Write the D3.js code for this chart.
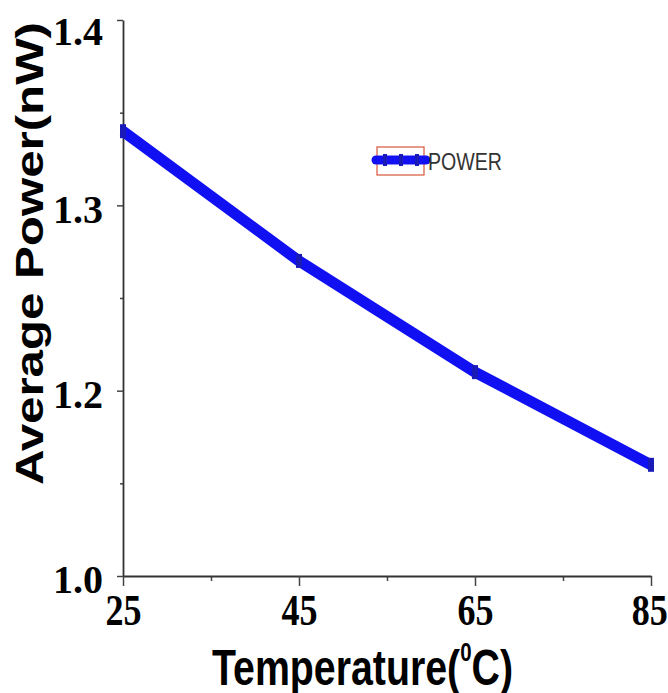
<!DOCTYPE html>
<html>
<head>
<meta charset="utf-8">
<script src="https://cdn.jsdelivr.net/npm/d3@7"></script>
<style>
  body { margin: 0; background: #fff; }
  svg { display: block; }
</style>
</head>
<body>
<div id="chart"></div>
<script>
// data
const temps = [25, 45, 65, 85];
const power = [1.34, 1.27, 1.21, 1.16];
const xTicks = [25, 45, 65, 85];
const xMinor = [35, 55, 75];
const yTicks = [1.1, 1.2, 1.3, 1.4];
const yTickLabels = ["1.0", "1.2", "1.3", "1.4"]; // bottom label printed as 1.0 in the original
const yMinor = [1.15, 1.25, 1.35];
const seriesName = "POWER";

const W = 668, H = 693;
const margin = { left: 123, right: 17, top: 20, bottom: 117 };

const svg = d3.select("#chart").append("svg")
  .attr("width", W).attr("height", H);

const x = d3.scaleLinear().domain([25, 85]).range([margin.left, W - margin.right]);
const y = d3.scaleLinear().domain([1.1, 1.4]).range([H - margin.bottom, margin.top]);

// minor ticks first
svg.append("g")
  .attr("transform", `translate(0,${H - margin.bottom})`)
  .call(d3.axisBottom(x).tickValues(xMinor).tickSize(5).tickFormat(""))
  .call(g => g.select(".domain").remove())
  .selectAll("line").attr("stroke", "#444").attr("stroke-width", 1.5);

svg.append("g")
  .attr("transform", `translate(${margin.left},0)`)
  .call(d3.axisLeft(y).tickValues(yMinor).tickSize(3).tickFormat(""))
  .call(g => g.select(".domain").remove())
  .selectAll("line").attr("stroke", "#444").attr("stroke-width", 1.5);

// x axis
const gx = svg.append("g")
  .attr("transform", `translate(0,${H - margin.bottom})`)
  .call(d3.axisBottom(x).tickValues(xTicks).tickSize(10).tickSizeOuter(0).tickFormat(d3.format("d")));
gx.select(".domain").attr("stroke", "#333").attr("stroke-width", 1.8);
gx.selectAll(".tick line").attr("stroke", "#444").attr("stroke-width", 1.5);
gx.selectAll(".tick text")
  .attr("y", 49).attr("dy", 0)
  .attr("transform", "scale(0.82,1)")
  .style("font-family", "'Liberation Serif', 'Times New Roman', serif")
  .style("font-weight", "bold")
  .style("font-size", "44px")
  .attr("fill", "#000");
// the last label sits against the right edge
gx.selectAll(".tick").filter(d => d === 85).select("text").attr("x", -2);

// y axis
const gy = svg.append("g")
  .attr("transform", `translate(${margin.left},0)`)
  .call(d3.axisLeft(y).tickValues(yTicks).tickSize(6).tickSizeOuter(0).tickPadding(14)
    .tickFormat((d, i) => yTickLabels[i]));
gy.select(".domain").attr("stroke", "#333").attr("stroke-width", 1.8);
gy.selectAll(".tick line").attr("stroke", "#444").attr("stroke-width", 1.5);
gy.selectAll(".tick text")
  .attr("dy", "0.42em")
  .style("font-family", "'Liberation Serif', 'Times New Roman', serif")
  .style("font-weight", "bold")
  .style("font-size", "40px")
  .attr("fill", "#000");
gy.selectAll(".tick").filter(d => d === 1.4).select("text").attr("dy", "0.6em");

// axis titles
const xt = svg.append("text")
  .attr("x", 212).attr("y", 685)
  .attr("textLength", 301).attr("lengthAdjust", "spacingAndGlyphs")
  .style("font-family", "'Liberation Sans', Arial, sans-serif")
  .style("font-weight", "bold").style("font-size", "50px");
xt.append("tspan").text("Temperature(");
xt.append("tspan").attr("dy", -24).style("font-size", "26px").text("0");
xt.append("tspan").attr("dy", 24).text("C)");

svg.append("text")
  .attr("transform", "translate(43,485) rotate(-90)")
  .attr("textLength", 463).attr("lengthAdjust", "spacingAndGlyphs")
  .style("font-family", "'Liberation Sans', Arial, sans-serif")
  .style("font-weight", "bold").style("font-size", "39px")
  .text("Average Power(nW)");

// series line
const pts = temps.map((t, i) => [t, power[i]]);
const line = d3.line().x(d => x(d[0])).y(d => y(d[1]));

svg.append("path")
  .datum(pts)
  .attr("d", line)
  .attr("fill", "none")
  .attr("stroke", "#1010f2")
  .attr("stroke-width", 11);

svg.selectAll(".marker")
  .data(pts)
  .enter().append("rect")
  .attr("class", "marker")
  .attr("x", d => x(d[0]) - 3)
  .attr("y", d => y(d[1]) - 7)
  .attr("width", 6).attr("height", 14)
  .attr("fill", "#1a1ab8");

// legend
const lg = svg.append("g").attr("transform", "translate(377,147)");
lg.append("rect")
  .attr("width", 47).attr("height", 28)
  .attr("fill", "none").attr("stroke", "#d8553a").attr("stroke-width", 1.2);
lg.append("line")
  .attr("x1", -1).attr("x2", 49).attr("y1", 13).attr("y2", 13)
  .attr("stroke", "#1010f2").attr("stroke-width", 9).attr("stroke-linecap", "round");
lg.selectAll(".lm")
  .data([8, 24, 40])
  .enter().append("rect")
  .attr("x", d => d - 2).attr("y", 7).attr("width", 4).attr("height", 12)
  .attr("fill", "#1a1ab8");
lg.append("text")
  .attr("x", 51).attr("y", 23)
  .attr("textLength", 74).attr("lengthAdjust", "spacingAndGlyphs")
  .style("font-family", "'Liberation Sans', Arial, sans-serif")
  .style("font-size", "24px").attr("fill", "#333")
  .text(seriesName);
</script>
</body>
</html>
